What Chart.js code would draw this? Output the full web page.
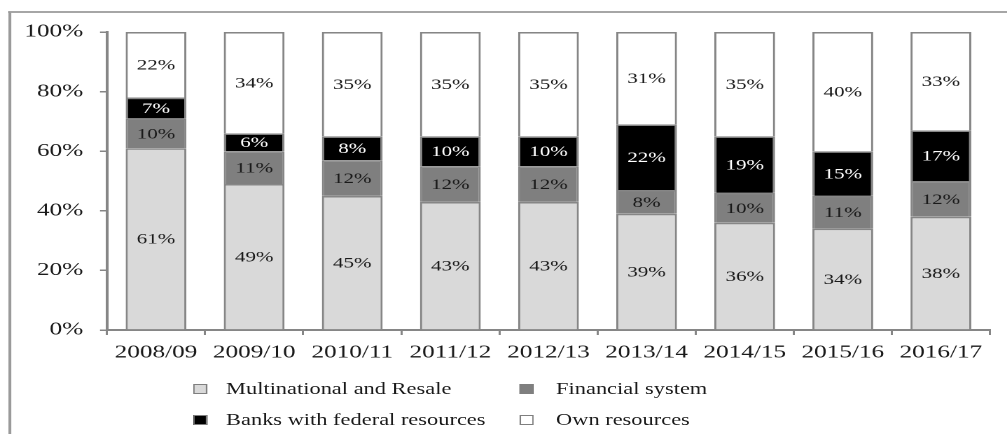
<!DOCTYPE html>
<html>
<head>
<meta charset="utf-8">
<script src="https://cdn.jsdelivr.net/npm/chart.js@4.4.1/dist/chart.umd.min.js"></script>
<style>
  html, body { margin: 0; padding: 0; background: #fff; overflow: hidden; }
  #stage {
    position: absolute; left: 0; top: 0;
    width: 719px; height: 434px;
    transform: scaleX(1.4006); transform-origin: 0 0;
    font-family: "Liberation Serif", "Times New Roman", serif;
    color: #1a1a1a;
  }
  #frame {
    position: absolute; left: 6px; top: 11px; right: -20px; bottom: -20px;
    border-top: 2px solid #a6a6a6; border-left: 2px solid #9a9a9a;
  }
  #chart { position: absolute; left: 0; top: 0; }
  .leg { position: absolute; height: 20px; line-height: 20px; font-size: 16px; white-space: nowrap; }
  .sw { position: absolute; width: 8px; height: 8px; border: 1px solid #7f7f7f; }
</style>
</head>
<body>
<div id="stage">
  <div id="frame"></div>
  <canvas id="chart" width="719" height="434"></canvas>
  <div id="legend"></div>
</div>
<script>
// Crop years
const seasons = ['2008/09', '2009/10', '2010/11', '2011/12', '2012/13', '2013/14', '2014/15', '2015/16', '2016/17'];

// Share of funding by source (%)
const multinationalResale = [61, 49, 45, 43, 43, 39, 36, 34, 38];
const financialSystem     = [10, 11, 12, 12, 12, 8, 10, 11, 12];
const federalBanks        = [7, 6, 8, 10, 10, 22, 19, 15, 17];
const ownResources        = [22, 34, 35, 35, 35, 31, 35, 40, 33];

const seriesNames = ['Multinational and Resale', 'Financial system', 'Banks with federal resources', 'Own resources'];
const yTicks = [0, 20, 40, 60, 80, 100];

const fills = ['#d9d9d9', '#7f7f7f', '#000000', '#ffffff'];
const labelInk = ['#1a1a1a', '#1a1a1a', '#ffffff', '#1a1a1a'];
const serif = '"Liberation Serif", "Times New Roman", serif';

const seriesData = [multinationalResale, financialSystem, federalBanks, ownResources];

// Writes the value of each stacked segment in its middle
const segmentLabels = {
  id: 'segmentLabels',
  afterDatasetsDraw(chart) {
    const ctx = chart.ctx;
    ctx.save();
    ctx.font = '15px ' + serif;
    ctx.textAlign = 'center';
    ctx.textBaseline = 'middle';
    chart.data.datasets.forEach((ds, di) => {
      const meta = chart.getDatasetMeta(di);
      meta.data.forEach((bar, i) => {
        const v = ds.data[i];
        ctx.fillStyle = labelInk[di];
        ctx.fillText(v + '%', bar.x, (bar.y + bar.base) / 2 + 1);
      });
    });
    ctx.restore();
  }
};

new Chart(document.getElementById('chart'), {
  type: 'bar',
  data: {
    labels: seasons,
    datasets: seriesData.map((d, i) => ({
      label: seriesNames[i],
      data: d,
      backgroundColor: fills[i],
      borderColor: '#868686',
      borderWidth: 1.6,
      barPercentage: 0.62,
      categoryPercentage: 1
    }))
  },
  options: {
    responsive: false,
    animation: false,
    devicePixelRatio: 2,
    layout: { padding: { top: 32, right: 12.2, bottom: 0, left: 0 } },
    plugins: { legend: { display: false }, tooltip: { enabled: false } },
    scales: {
      x: {
        stacked: true,
        grid: { drawOnChartArea: false, drawTicks: true, tickLength: 5, color: '#868686', lineWidth: 1.5, offset: true },
        border: { color: '#868686', width: 2 },
        ticks: { color: '#1a1a1a', font: { family: serif, size: 18 }, padding: 7, maxRotation: 0 },
        afterFit(scale) { scale.height = 104; }
      },
      y: {
        stacked: true,
        min: 0, max: 100,
        afterBuildTicks(scale) { scale.ticks = yTicks.map(v => ({ value: v })); },
        grid: { drawOnChartArea: false, drawTicks: true, tickLength: 5, color: '#868686', lineWidth: 1.5 },
        border: { color: '#868686', width: 2 },
        ticks: { color: '#1a1a1a', font: { family: serif, size: 18 }, padding: 12, callback: v => v + '%' },
        afterFit(scale) { scale.width = 76.4; }
      }
    }
  },
  plugins: [segmentLabels]
});

// Two-column legend below the plot
const legendSlots = [
  { sw: 137.8, tx: 161.4, y: 389 },
  { sw: 371.3, tx: 397.0, y: 389 },
  { sw: 137.8, tx: 161.4, y: 420 },
  { sw: 371.3, tx: 397.0, y: 420 }
];
const legend = document.getElementById('legend');
seriesNames.forEach((name, i) => {
  const s = legendSlots[i];
  const box = document.createElement('div');
  box.className = 'sw';
  box.style.left = s.sw + 'px';
  box.style.top = (s.y - 5) + 'px';
  box.style.background = fills[i];
  legend.appendChild(box);
  const t = document.createElement('div');
  t.className = 'leg';
  t.style.left = s.tx + 'px';
  t.style.top = (s.y - 10) + 'px';
  t.textContent = name;
  legend.appendChild(t);
});
</script>
</body>
</html>
